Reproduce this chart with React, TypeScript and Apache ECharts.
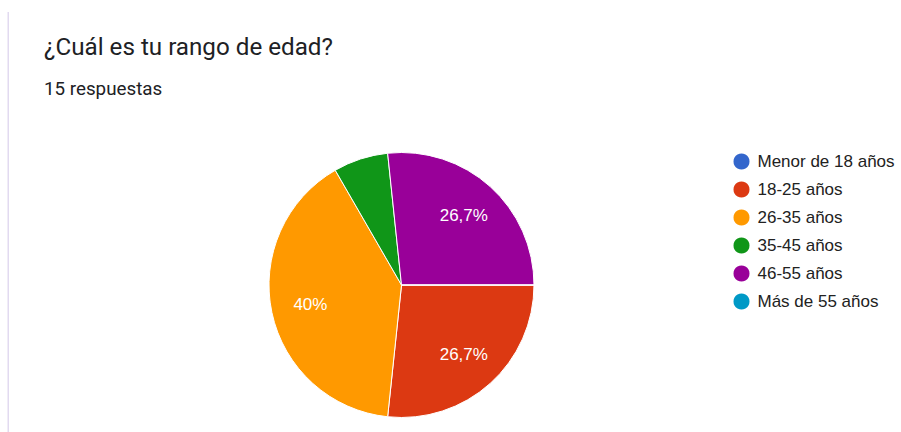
import React, { useEffect, useRef } from "react";
import * as echarts from "echarts";

const categories = [
  "Menor de 18 años",
  "18-25 años",
  "26-35 años",
  "35-45 años",
  "46-55 años",
  "Más de 55 años",
];
const responses = [0, 4, 6, 1, 4, 0];
const colors = ["#3366cc", "#dc3912", "#ff9900", "#109618", "#990099", "#0099c6"];
const titleText = "¿Cuál es tu rango de edad?";
const subtitleText = "15 respuestas";

const CX = 401.5;
const CY = 285;
const R = 132.5;

export default function App() {
  const ref = useRef<HTMLDivElement>(null);
  useEffect(() => {
    if (!ref.current) return;
    const chart = echarts.init(ref.current, null, { renderer: "svg" });
    const data = categories.map((name, i) => ({ name, value: responses[i] }));
    chart.setOption({
      animation: false,
      color: colors,
      title: [
        {
          text: titleText,
          left: 44,
          top: 34.5,
          padding: 0,
          textStyle: {
            fontFamily: "Roboto",
            fontSize: 24.2,
            fontWeight: "normal",
            color: "#202124",
          },
        },
        {
          text: subtitleText,
          left: 44,
          top: 79,
          padding: 0,
          textStyle: {
            fontFamily: "Roboto",
            fontSize: 18.8,
            fontWeight: "normal",
            color: "#202124",
          },
        },
      ],
      graphic: [
        {
          type: "rect",
          shape: { x: 7.5, y: 12, width: 1.5, height: 430 },
          style: { fill: "#e2daf0" },
          silent: true,
        },
      ],
      legend: {
        orient: "vertical",
        left: 731.5,
        top: 151.5,
        padding: 0,
        icon: "circle",
        itemWidth: 18,
        itemHeight: 18,
        itemGap: 8,
        selectedMode: false,
        data: categories,
        textStyle: {
          fontFamily: "Arial, 'Liberation Sans'",
          fontSize: 17,
          color: "#222222",
          padding: [0, 0, 0, 2],
        },
      },
      series: [
        {
          type: "pie",
          center: [CX, CY],
          radius: R,
          startAngle: 0,
          clockwise: true,
          data,
          label: { show: false },
          labelLine: { show: false },
          itemStyle: { borderColor: "#ffffff", borderWidth: 1 },
          emphasis: { disabled: true },
          silent: true,
        },
        {
          type: "pie",
          center: [CX, CY],
          radius: [R * 0.36, R],
          startAngle: 0,
          clockwise: true,
          data,
          itemStyle: { color: "transparent", borderWidth: 0 },
          labelLine: { show: false },
          emphasis: { disabled: true },
          silent: true,
          label: {
            show: true,
            position: "inside",
            color: "#ffffff",
            fontFamily: "Arial, 'Liberation Sans'",
            fontSize: 17,
            formatter: (p: any) => {
              if (p.percent < 10) return "";
              const v = Math.round(p.percent * 10) / 10;
              return String(v).replace(".", ",") + "%";
            },
          },
        },
      ],
    });
    return () => chart.dispose();
  }, []);
  return (
    <div
      ref={ref}
      style={{ position: "absolute", left: 0, top: 0, width: 901, height: 432, background: "#ffffff" }}
    />
  );
}
